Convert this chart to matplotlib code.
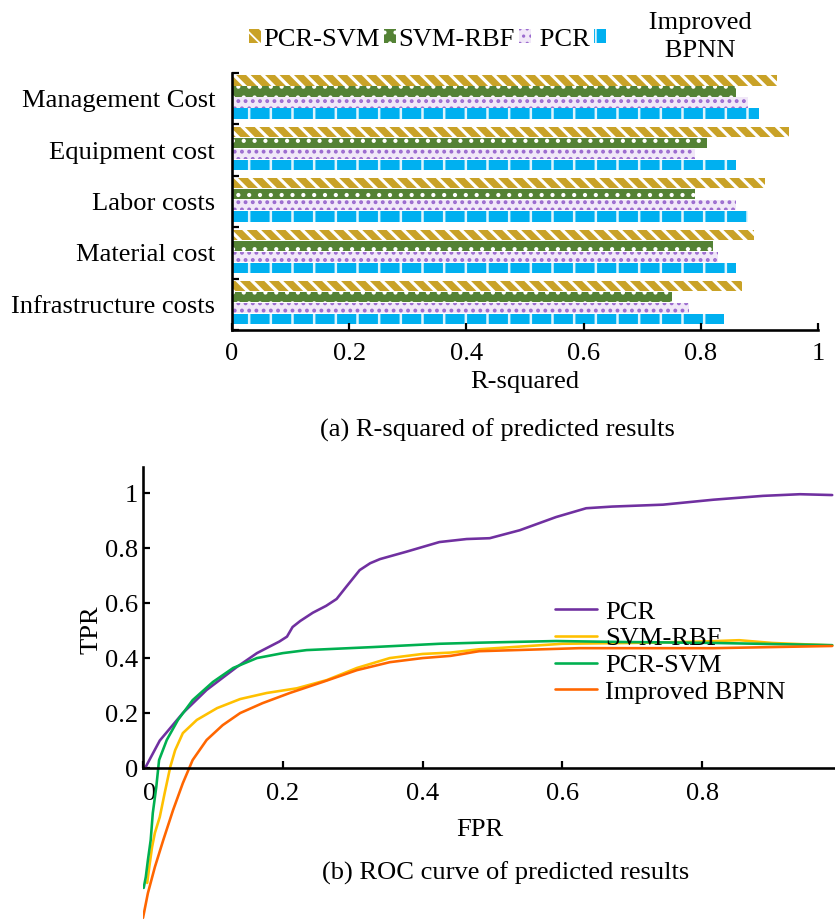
import matplotlib
matplotlib.use("Agg")
import matplotlib.pyplot as plt
import numpy as np

# ---------------- data ----------------
categories = ["Management Cost", "Equipment cost", "Labor costs", "Material cost", "Infrastructure costs"]
bar_series = ["PCR-SVM", "SVM-RBF", "PCR", "Improved BPNN"]
pcr_svm_r2 = [0.93, 0.95, 0.91, 0.89, 0.87]
svm_rbf_r2 = [0.86, 0.81, 0.79, 0.82, 0.75]
pcr_r2 = [0.88, 0.79, 0.86, 0.83, 0.78]
bpnn_r2 = [0.90, 0.86, 0.88, 0.86, 0.84]
r2_ticks = [0, 0.2, 0.4, 0.6, 0.8, 1.0]
r2_ticklabels = ["0", "0.2", "0.4", "0.6", "0.8", "1"]

roc_pcr_fpr = [0.003, 0.024, 0.057, 0.091, 0.134, 0.163, 0.195, 0.206, 0.214, 0.225, 0.243, 0.262, 0.277,
               0.291, 0.31, 0.325, 0.339, 0.377, 0.424, 0.463, 0.496, 0.539, 0.591, 0.634, 0.671, 0.744,
               0.816, 0.887, 0.94, 0.986]
roc_pcr_tpr = [0.0, 0.10, 0.20, 0.284, 0.367, 0.418, 0.46, 0.478, 0.513, 0.535, 0.565, 0.59, 0.615,
               0.66, 0.72, 0.745, 0.76, 0.787, 0.822, 0.833, 0.836, 0.865, 0.913, 0.945, 0.951, 0.958,
               0.976, 0.99, 0.996, 0.993]
roc_svmrbf_fpr = [0.006, 0.009, 0.013, 0.017, 0.024, 0.031, 0.039, 0.046, 0.057, 0.077, 0.106, 0.139, 0.177,
                  0.22, 0.263, 0.306, 0.353, 0.4, 0.44, 0.481, 0.6, 0.7, 0.8, 0.853, 0.9, 0.986]
roc_svmrbf_tpr = [-0.418, -0.36, -0.287, -0.236, -0.178, -0.091, 0.004, 0.065, 0.127, 0.175, 0.218, 0.251,
                  0.273, 0.29, 0.32, 0.364, 0.4, 0.415, 0.42, 0.432, 0.452, 0.455, 0.46, 0.465, 0.455, 0.446]
roc_pcrsvm_fpr = [0.001, 0.004, 0.007, 0.011, 0.014, 0.019, 0.023, 0.034, 0.05, 0.071, 0.1, 0.129, 0.163,
                  0.2, 0.234, 0.329, 0.424, 0.481, 0.591, 0.671, 0.816, 0.986]
roc_pcrsvm_tpr = [-0.436, -0.396, -0.335, -0.262, -0.164, -0.069, 0.029, 0.102, 0.175, 0.247, 0.313, 0.364,
                  0.4, 0.418, 0.429, 0.44, 0.452, 0.456, 0.462, 0.459, 0.455, 0.447]
roc_bpnn_fpr = [0.0, 0.007, 0.017, 0.029, 0.043, 0.057, 0.071, 0.091, 0.114, 0.139, 0.171, 0.21, 0.257,
                0.306, 0.353, 0.4, 0.44, 0.481, 0.624, 0.816, 0.986]
roc_bpnn_tpr = [-0.545, -0.455, -0.36, -0.262, -0.153, -0.055, 0.029, 0.102, 0.156, 0.2, 0.236, 0.273,
                0.313, 0.356, 0.385, 0.4, 0.408, 0.425, 0.436, 0.436, 0.444]
roc_yticks = [0, 0.2, 0.4, 0.6, 0.8, 1.0]
roc_yticklabels = ["0", "0.2", "0.4", "0.6", "0.8", "1"]
roc_xticks = [0, 0.2, 0.4, 0.6, 0.8]
roc_xticklabels = ["0", "0.2", "0.4", "0.6", "0.8"]

# ---------------- style ----------------
DPI = 130
W, H = 835, 923
def pt(px):
    return px * 72.0 / DPI

plt.rcParams["font.family"] = ["Liberation Serif", "DejaVu Serif"]
FS = pt(26.5)
plt.rcParams["font.size"] = FS

fig = plt.figure(figsize=(W / DPI, H / DPI), dpi=DPI)

# ---------------- (a) bar chart ----------------
ax1 = fig.add_axes([232 / W, 1 - 330 / H, (818 - 232) / W, (330 - 73) / H])
ypos = np.arange(len(categories))[::-1].astype(float)  # Management at top
offsets = [0.355, 0.14, -0.075, -0.29]
bar_h = 0.2
styles = [
    dict(color="#C9A227", hatch="\\\\\\", edgecolor="white", hlw=pt(3.2)),
    dict(color="#548235", hatch="..", edgecolor="white", hlw=pt(2.0)),
    dict(color="#F1E8F8", hatch="...", edgecolor="#9B6BCF", hlw=pt(2.4)),
    dict(color="#00B0F0", hatch="|", edgecolor="#DDF4FD", hlw=pt(2.5)),
]
series_vals = [pcr_svm_r2, svm_rbf_r2, pcr_r2, bpnn_r2]
handles = []
for name, vals, off, st in zip(bar_series, series_vals, offsets, styles):
    with plt.rc_context({"hatch.linewidth": st["hlw"]}):
        bc = ax1.barh(ypos + off, vals, height=bar_h, color=st["color"], hatch=st["hatch"],
                      edgecolor=st["edgecolor"], linewidth=0, label=name)
        for p in bc:
            if hasattr(p, "set_hatch_linewidth"):
                p.set_hatch_linewidth(st["hlw"])
    handles.append(bc)

ax1.set_xlim(0, 1.0)
ax1.set_ylim(-0.5, len(categories) - 0.5)
ax1.set_yticks(ypos)
ax1.set_yticklabels(categories)
ax1.set_yticks(np.arange(-0.5, len(categories), 1.0), minor=True)
ax1.tick_params(axis="y", which="major", length=0, pad=pt(17))
ax1.tick_params(axis="y", which="minor", direction="in", length=pt(7), width=pt(2.2))
ax1.set_xticks(r2_ticks)
ax1.set_xticklabels(r2_ticklabels)
ax1.tick_params(axis="x", direction="in", length=pt(7), width=pt(2.2), pad=pt(13))
for s in ["top", "right"]:
    ax1.spines[s].set_visible(False)
for s in ["left", "bottom"]:
    ax1.spines[s].set_linewidth(pt(2.6))
ax1.set_xlabel("R-squared", labelpad=pt(6))

leg1 = fig.legend(handles, ["PCR-SVM", "SVM-RBF", " PCR", "      Improved\n      BPNN"],
                  loc="center", bbox_to_anchor=(500 / W, 1 - 37 / H), ncol=4, frameon=False,
                  handlelength=0.45, handleheight=0.45, handletextpad=0.1, columnspacing=0.15,
                  borderpad=0, fontsize=FS)
for t in leg1.get_texts():
    t.set_multialignment("center")
leg1.get_texts()[3].set_linespacing(1.35)

fig.text(497 / W, 1 - 430 / H, "(a) R-squared of predicted results", ha="center", va="center")

# ---------------- (b) ROC curves ----------------
ax2 = fig.add_axes([143 / W, 1 - 922 / H, (835 - 143) / W, (922 - 467) / H])
lw = pt(2.6)
kw = dict(lw=lw, solid_joinstyle="round", solid_capstyle="round")
ax2.plot(roc_pcr_fpr, roc_pcr_tpr, color="#7030A0", label="PCR", **kw)
ax2.plot(roc_svmrbf_fpr, roc_svmrbf_tpr, color="#FFC000", label="SVM-RBF", **kw)
ax2.plot(roc_pcrsvm_fpr, roc_pcrsvm_tpr, color="#00B050", label="PCR-SVM", **kw)
ax2.plot(roc_bpnn_fpr, roc_bpnn_tpr, color="#FF6600", label="Improved BPNN", **kw)
ax2.set_xlim(0, 0.99)
ax2.set_ylim(-0.56, 1.095)
for s in ["top", "right"]:
    ax2.spines[s].set_visible(False)
ax2.spines["bottom"].set_position(("data", 0))
ax2.spines["left"].set_bounds(0, 1.095)
for s in ["left", "bottom"]:
    ax2.spines[s].set_linewidth(pt(2.6))
ax2.set_yticks(roc_yticks)
ax2.set_yticklabels(roc_yticklabels)
ax2.set_xticks(roc_xticks)
ax2.set_xticklabels(roc_xticklabels)
ax2.tick_params(axis="both", direction="in", length=pt(7), width=pt(2.2))
ax2.tick_params(axis="y", pad=pt(5))
ax2.tick_params(axis="x", pad=pt(15))
ax2.get_xticklabels()[0].set_horizontalalignment("left")

ax2.legend(loc="upper left", bbox_to_anchor=(555 / W, 1 - 600 / H), bbox_transform=fig.transFigure,
           frameon=False, handlelength=1.6, handletextpad=0.3, labelspacing=0.12, borderpad=0,
           borderaxespad=0, fontsize=FS)

fig.text(480 / W, 1 - 830 / H, "FPR", ha="center", va="center")
fig.text(92 / W, 1 - 630 / H, "TPR", ha="center", va="center", rotation=90)
fig.text(506 / W, 1 - 873 / H, "(b) ROC curve of predicted results", ha="center", va="center")

fig.savefig("out.png", dpi=DPI)
